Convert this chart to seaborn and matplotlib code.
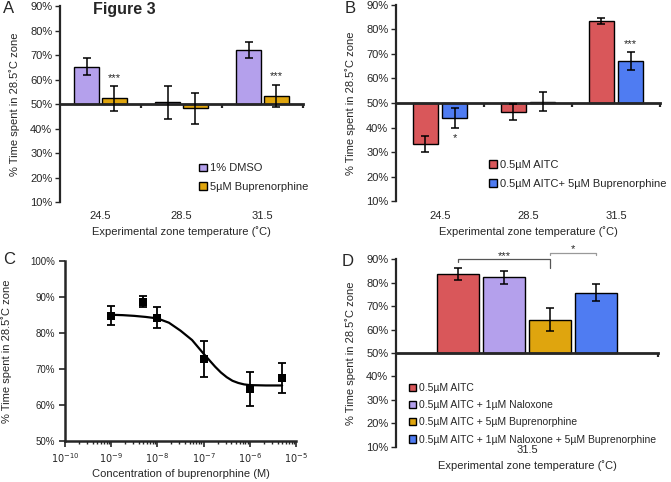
import matplotlib
matplotlib.use("Agg")
import matplotlib.pyplot as plt
import numpy as np
import pandas as pd
import seaborn as sns
from matplotlib.ticker import FuncFormatter, LogLocator, NullFormatter, FixedLocator

# ---------------- data ----------------
temps = ["24.5", "28.5", "31.5"]

# Panel A
a_groups = ["1% DMSO", "5µM Buprenorphine"]
a_dmso = [65.3, 50.7, 72.0]
a_dmso_err = [3.5, 6.8, 3.2]
a_bup = [52.3, 48.2, 53.3]
a_bup_err = [5.0, 6.4, 4.6]
a_sig = ["***", "", "***"]

# Panel B
b_groups = ["0.5µM AITC", "0.5µM AITC+ 5µM Buprenorphine"]
b_aitc = [33.3, 46.3, 83.4]
b_aitc_err = [3.2, 3.3, 1.3]
b_bup = [43.8, 50.6, 67.2]
b_bup_err = [4.0, 3.8, 3.7]
b_sig = ["*", "", "***"]

# Panel C
c_conc = [1e-9, 5e-9, 1e-8, 1e-7, 1e-6, 5e-6]
c_vals = [84.7, 88.6, 84.2, 72.8, 64.4, 67.4]
c_err = [2.6, 1.5, 3.0, 5.0, 4.6, 4.2]
curve_logc = [-9, -8.75, -8.5, -8.25, -8, -7.75, -7.5, -7.25, -7, -6.875, -6.75,
              -6.625, -6.5, -6.375, -6.25, -6.125, -6, -5.65, -5.3]
curve_vals = [85.0, 84.9, 84.7, 84.4, 84.0, 82.8, 80.6, 78.0, 74.2, 72.4, 70.6,
              69.0, 67.7, 66.7, 66.1, 65.7, 65.5, 65.4, 65.4]

# Panel D
d_temp = ["31.5"]
d_groups = ["0.5µM AITC", "0.5µM AITC + 1µM Naloxone",
            "0.5µM AITC + 5µM Buprenorphine",
            "0.5µM AITC + 1µM Naloxone + 5µM Buprenorphine"]
d_vals = [83.8, 82.3, 64.3, 75.7]
d_err = [2.6, 2.7, 5.1, 3.6]

RED = "#D9575A"
PURPLE = "#B4A0EC"
GOLD = "#DFA50E"
BLUE = "#4F7CF2"

# ---------------- style ----------------
sns.set_theme(style="ticks")
plt.rcParams["font.family"] = ["Liberation Sans", "DejaVu Sans"]
plt.rcParams["font.size"] = 8
plt.rcParams["axes.linewidth"] = 1.6

fig = plt.figure(figsize=(6.71, 4.82), dpi=100)
W, H = 671, 482


def rect(l, r, t, b):
    return [l / W, 1 - b / H, (r - l) / W, (b - t) / H]


pct = FuncFormatter(lambda v, p: f"{v:.0f}%")


def bar_panel(ax, cats, groups, series, errs, palette, width, gap, pad):
    rows = []
    for g, vals in zip(groups, series):
        for c, v in zip(cats, vals):
            rows.append({"temp": c, "group": g, "delta": v - 50})
    df = pd.DataFrame(rows)
    sns.barplot(data=df, x="temp", y="delta", hue="group", order=cats,
                hue_order=groups, palette=palette, width=width, gap=gap,
                saturation=1, errorbar=None, bottom=50, edgecolor="black",
                linewidth=1.0, legend=False, ax=ax)
    centers = []
    for cont, vals, er in zip(ax.containers, series, errs):
        xs = [p.get_x() + p.get_width() / 2 for p in cont.patches]
        centers.append(xs)
        ax.errorbar(xs, vals, yerr=er, fmt="none", ecolor="black",
                    elinewidth=1.1, capsize=2.8, capthick=1.1, zorder=4)
    ax.set_ylim(10, 90)
    ax.set_xlim(-0.5, len(cats) - 0.5)
    ax.set_yticks(range(10, 91, 10))
    ax.yaxis.set_major_formatter(pct)
    for s in ["top", "right"]:
        ax.spines[s].set_visible(False)
    ax.spines["bottom"].set_position(("data", 50))
    ax.spines["bottom"].set_linewidth(2.0)
    ax.spines["left"].set_linewidth(1.6)
    ax.set_xticks(np.arange(0.5, len(cats), 1.0), minor=True)
    ax.tick_params(axis="x", which="major", length=0, pad=pad, labelsize=8)
    ax.tick_params(axis="x", which="minor", length=3, width=1.6, direction="out")
    ax.tick_params(axis="y", length=3.5, width=1.0, labelsize=8, pad=2)
    ax.set_ylabel("% Time spent in 28.5˚C zone", fontsize=8, labelpad=7)
    ax.set_xlabel("Experimental zone temperature (˚C)", fontsize=8, labelpad=4)
    ax.grid(False)
    return centers


def legend(ax, groups, x, y, spacing, fs=8):
    ax.legend(handles=list(ax.containers), labels=groups, loc="center left",
              bbox_to_anchor=(x, y), frameon=False, fontsize=fs,
              handlelength=0.7, handleheight=0.7, handletextpad=0.25,
              labelspacing=spacing, borderpad=0, borderaxespad=0)


def stars(ax, centers, series, errs, sigs, above_off, below_off):
    for xs, vals, er, sg in zip(centers, series, errs, sigs):
        for x, v, e, s in zip(xs, vals, er, sg):
            if not s:
                continue
            if v >= 50:
                y = v + e + above_off
            else:
                y = v - e - below_off
            ax.text(x, y, s, ha="center", va="baseline", fontsize=8)


# ---------------- Panel A ----------------
axA = fig.add_axes(rect(60, 303, 6, 202))
cA = bar_panel(axA, temps, a_groups, [a_dmso, a_bup], [a_dmso_err, a_bup_err],
               {a_groups[0]: PURPLE, a_groups[1]: GOLD}, 0.69, 0.09, 77)
stars(axA, [cA[1]], [a_bup], [a_bup_err], [a_sig], 2.2, 5.3)
legend(axA, a_groups, 0.572, 0.125, 0.75)

# ---------------- Panel B ----------------
axB = fig.add_axes(rect(396, 660, 4.7, 201.3))
cB = bar_panel(axB, temps, b_groups, [b_aitc, b_bup], [b_aitc_err, b_bup_err],
               {b_groups[0]: RED, b_groups[1]: BLUE}, 0.66, 0.12, 77.5)
stars(axB, [cB[1]], [b_bup], [b_bup_err], [b_sig], 1.8, 5.3)
legend(axB, b_groups, 0.353, 0.137, 0.75)

# ---------------- Panel C ----------------
axC = fig.add_axes(rect(65, 296, 260.7, 441))
sns.lineplot(x=[10.0 ** v for v in curve_logc], y=curve_vals, color="black",
             linewidth=1.6, sort=False, ax=axC)
axC.errorbar(c_conc, c_vals, yerr=c_err, fmt="none", ecolor="black",
             elinewidth=1.3, capsize=3.0, capthick=1.3, zorder=3)
sns.scatterplot(x=c_conc, y=c_vals, marker="s", color="black", s=30,
                edgecolor="black", linewidth=0, zorder=4, ax=axC)
axC.set_xscale("log")
axC.set_xlim(1e-10, 1e-5)
axC.set_ylim(50, 100)
axC.set_yticks(range(50, 101, 10))
axC.yaxis.set_major_formatter(pct)
axC.xaxis.set_major_locator(FixedLocator([10.0 ** k for k in range(-10, -4)]))
axC.xaxis.set_major_formatter(FuncFormatter(lambda v, p: f"$10^{{{int(round(np.log10(v)))}}}$"))
axC.xaxis.set_minor_locator(LogLocator(base=10, subs=np.arange(2, 10), numticks=20))
axC.xaxis.set_minor_formatter(NullFormatter())
for s in ["top", "right"]:
    axC.spines[s].set_visible(False)
axC.spines["bottom"].set_linewidth(1.8)
axC.spines["left"].set_linewidth(1.8)
axC.tick_params(axis="both", which="major", length=4, width=1.2, labelsize=7, pad=3)
axC.tick_params(axis="x", which="minor", length=2.5, width=1.0)
axC.set_ylabel("% Time spent in 28.5˚C zone", fontsize=8, labelpad=13)
axC.set_xlabel("Concentration of buprenorphine (M)", fontsize=8, labelpad=3)
axC.grid(False)

# ---------------- Panel D ----------------
axD = fig.add_axes(rect(396, 658, 259.3, 446.7))
cD = bar_panel(axD, d_temp, d_groups, [[v] for v in d_vals], [[e] for e in d_err],
               dict(zip(d_groups, [RED, PURPLE, GOLD, BLUE])), 0.70, 0.08, 66)
legend(axD, d_groups, 0.05, 0.175, 0.68, fs=7.5)
x0, x2, x3 = cD[0][0], cD[2][0], cD[3][0]
axD.plot([x0, x0, x2, x2], [88.7, 90.0, 90.0, 86.2], color="#555555",
         linewidth=0.9, clip_on=False)
axD.text((x0 + x2) / 2, 90.1, "***", ha="center", va="baseline", fontsize=8)
axD.plot([x2, x2, x3, x3], [91.8, 92.8, 92.8, 91.8], color="#999999",
         linewidth=0.9, clip_on=False)
axD.text((x2 + x3) / 2, 92.9, "*", ha="center", va="baseline", fontsize=8)

# ---------------- labels ----------------
fig.text(3 / W, 1 - 1 / H, "A", fontsize=12, va="top", ha="left")
fig.text(345 / W, 1 - 1 / H, "B", fontsize=12, va="top", ha="left")
fig.text(3 / W, 1 - 252 / H, "C", fontsize=12, va="top", ha="left")
fig.text(342 / W, 1 - 254 / H, "D", fontsize=12, va="top", ha="left")
fig.text(93 / W, 1 - 2 / H, "Figure 3", fontsize=11.5, fontweight="bold",
         va="top", ha="left")

fig.savefig("out.png", dpi=100)
